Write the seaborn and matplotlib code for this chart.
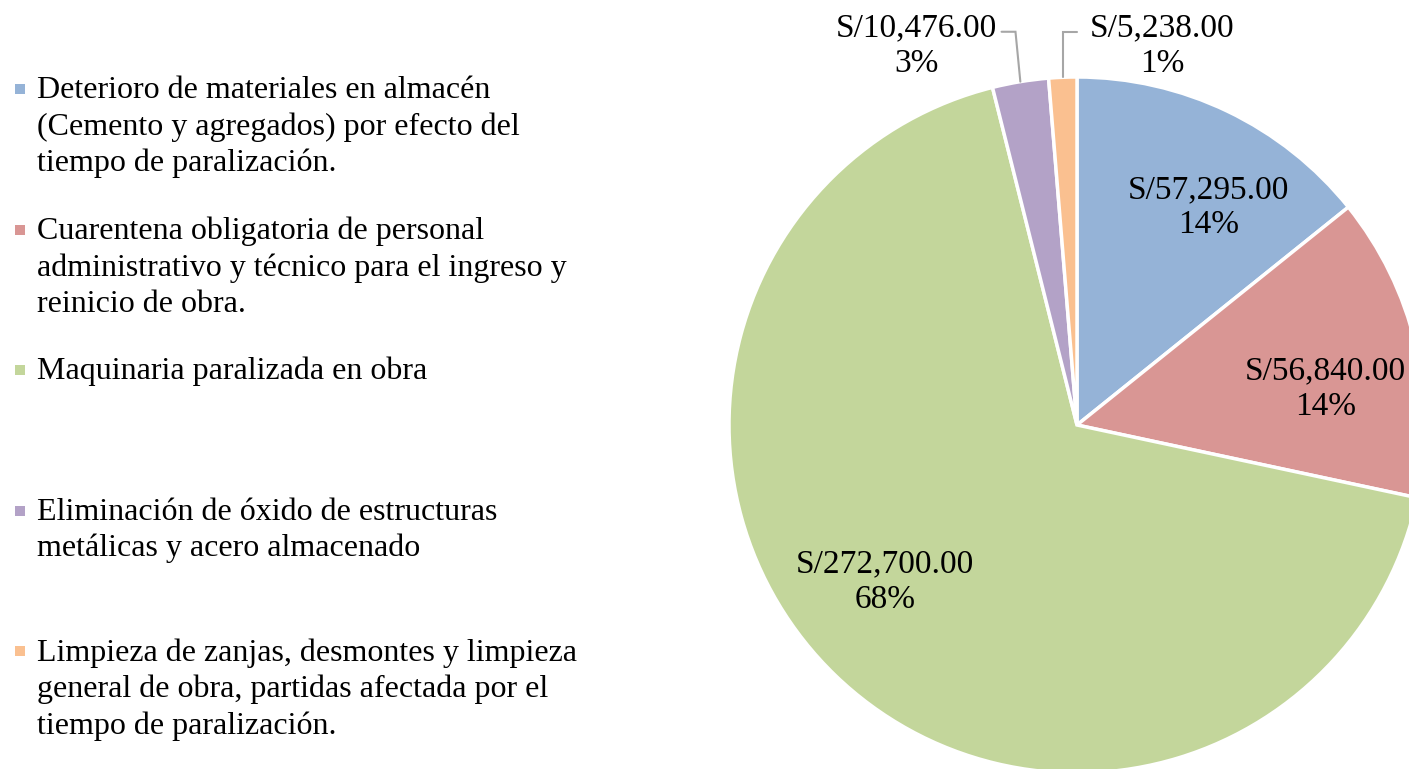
import numpy as np
import matplotlib
matplotlib.use('Agg')
import matplotlib.pyplot as plt
import seaborn as sns
from matplotlib.patches import Rectangle

# datos del gráfico
categorias = ['Deterioro de materiales en almacén\n(Cemento y agregados) por efecto del\ntiempo de paralización.',
              'Cuarentena obligatoria de personal\nadministrativo y técnico para el ingreso y\nreinicio de obra.',
              'Maquinaria paralizada en obra',
              'Eliminación de óxido de estructuras\nmetálicas y acero almacenado',
              'Limpieza de zanjas, desmontes y limpieza\ngeneral de obra, partidas afectada por el\ntiempo de paralización.']
montos = [57295.00, 56840.00, 272700.00, 10476.00, 5238.00]
colores = ['#95B3D7', '#D99694', '#C3D69B', '#B3A2C7', '#FAC090']

sns.set_theme(style='white')
plt.rcParams['font.family'] = ['Liberation Serif', 'DejaVu Serif']

W, H = 1409, 769
fig = plt.figure(figsize=(W / 100, H / 100), dpi=100)
fig.patch.set_facecolor('white')

# leyenda manual (columna izquierda)
ax_leg = fig.add_axes([0, 0, 1, 1])
ax_leg.set_xlim(0, W)
ax_leg.set_ylim(H, 0)
ax_leg.axis('off')
for i, (cat, col) in enumerate(zip(categorias, colores)):
    y0 = 76 + 140.5 * i
    ax_leg.add_patch(Rectangle((15, y0 + 8), 10, 10, facecolor=col, edgecolor='none'))
    ax_leg.text(37, y0, cat, fontsize=23, va='top', ha='left', linespacing=1.32, color='black')

# pastel
cx, cy, r = 1077, 425, 348
ax = fig.add_axes([(cx - r) / W, (H - cy - r) / H, 2 * r / W, 2 * r / H])
wedges, _ = ax.pie(montos, colors=colores, startangle=90, counterclock=False,
                   wedgeprops=dict(edgecolor='white', linewidth=2.5))
ax.set_xlim(-1, 1)
ax.set_ylim(-1, 1)
ax.set_aspect('auto')
ax.axis('off')

total = sum(montos)
for i, (w, v) in enumerate(zip(wedges, montos)):
    ang = np.deg2rad((w.theta1 + w.theta2) / 2)
    etiqueta = 'S/{:,.2f}\n{:.0f}%'.format(v, v / total * 100)
    if v / total > 0.05:
        d = 0.72
        a = ang - np.deg2rad(6)
        ax.text(d * np.cos(a), d * np.sin(a) + 0.012, etiqueta, fontsize=24,
                ha='center', va='center', linespacing=1.2, color='black')
    else:
        x0, y0 = np.cos(ang), np.sin(ang)
        lado = -1 if x0 < -0.1 else 1
        xe = x0 - 0.014 if lado < 0 else x0
        ax.plot([x0, xe, xe + lado * 0.04], [y0, 1.13, 1.13], color='#A6A6A6', lw=1.5,
                clip_on=False, solid_joinstyle='miter')
        xt = xe + lado * 0.045 + lado * 0.24
        ax.text(xt, 1.09, etiqueta, fontsize=24, ha='center', va='center',
                linespacing=1.2, color='black', clip_on=False)

fig.savefig('out.png', dpi=100, facecolor='white')
